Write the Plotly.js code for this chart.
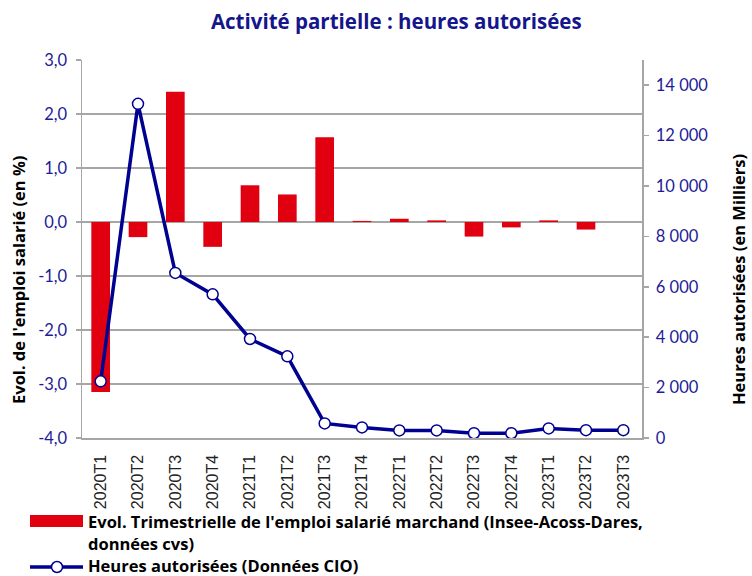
<!DOCTYPE html>
<html><head><meta charset="utf-8">
<script src="https://cdn.plot.ly/plotly-3.0.1.min.js"></script>
<style>body{margin:0;background:#fff}#chart{width:752px;height:576px}</style>
</head><body><div id="chart"></div>
<script>
const quarters = ["2020T1","2020T2","2020T3","2020T4","2021T1","2021T2","2021T3","2021T4","2022T1","2022T2","2022T3","2022T4","2023T1","2023T2","2023T3"];
const emploiEvol = [-3.15,-0.28,2.41,-0.46,0.68,0.51,1.57,0.02,0.06,0.03,-0.27,-0.10,0.03,-0.14,0.0];
const heuresAutorisees = [2250,13260,6550,5700,3930,3240,580,420,300,300,190,190,380,310,310];
const leftTickVals = [-4,-3,-2,-1,0,1,2,3];
const leftTickText = ["-4,0","-3,0","-2,0","-1,0","0,0","1,0","2,0","3,0"];
const rightTickVals = [0,2000,4000,6000,8000,10000,12000,14000];
const rightTickText = ["0","2 000","4 000","6 000","8 000","10 000","12 000","14 000"];
const barLegend = ["Evol. Trimestrielle de l'emploi salarié marchand (Insee-Acoss-Dares,", "données cvs)"];
const lineLegend = "Heures autorisées (Données CIO)";

const W = 752, H = 576, L = 82, R = 110, T = 60, B = 138;
const pw = W - L - R, ph = H - T - B;
const px = v => (v - L) / pw;          // pixel x -> paper x
const py = v => (H - B - v) / ph;      // pixel y -> paper y

const navy = "#000091";
const tickBlue = "#1c1c98";
const titleBlue = "#15158c";
const grey = "#a6a6a6";
const boldFont = "Open Sans, Noto Sans, sans-serif";
const tickFontFam = "Lato, Open Sans, sans-serif";

const traces = [
  {type:"bar", x:quarters, y:emploiEvol, name:barLegend.join(" "),
   marker:{color:"#e1000f"}, xaxis:"x", yaxis:"y", showlegend:false},
  {type:"scatter", mode:"lines+markers", x:quarters, y:heuresAutorisees, name:lineLegend,
   line:{color:navy, width:3.5}, marker:{symbol:"circle", size:11, color:"#fff", line:{color:navy, width:1.5}},
   xaxis:"x", yaxis:"y2", showlegend:false}
];

const legFont = {family:boldFont, size:16.5, color:"#000"};
const annotations = [
  {xref:"paper", yref:"paper", x:px(86), y:py(521), xanchor:"left", yanchor:"middle", text:"<b>"+barLegend[0]+"</b>", showarrow:false, font:legFont},
  {xref:"paper", yref:"paper", x:px(86), y:py(543.5), xanchor:"left", yanchor:"middle", text:"<b>"+barLegend[1]+"</b>", showarrow:false, font:legFont},
  {xref:"paper", yref:"paper", x:px(86), y:py(565.5), xanchor:"left", yanchor:"middle", text:"<b>"+lineLegend+"</b>", showarrow:false, font:legFont},
  {xref:"paper", yref:"paper", x:px(18), y:py(280), xanchor:"center", yanchor:"middle", textangle:-90, text:"<b>Evol. de l'emploi salarié (en %)</b>", showarrow:false, font:{family:boldFont, size:16.5, color:"#000"}},
  {xref:"paper", yref:"paper", x:px(738), y:py(280), xanchor:"center", yanchor:"middle", textangle:-90, text:"<b>Heures autorisées (en Milliers)</b>", showarrow:false, font:{family:boldFont, size:16.5, color:"#000"}}
];
const shapes = [
  {type:"rect", xref:"paper", yref:"paper", x0:px(30), x1:px(83), y0:py(515), y1:py(527), fillcolor:"#e1000f", line:{width:0}},
  {type:"line", xref:"paper", yref:"paper", x0:px(30), x1:px(83), y0:py(567), y1:py(567), line:{color:navy, width:3.5}},
  {type:"circle", xref:"paper", yref:"paper", x0:px(51.5), x1:px(62.5), y0:py(561.5), y1:py(572.5), fillcolor:"#fff", line:{color:navy, width:1.5}}
];

const layout = {
  width:W, height:H,
  margin:{l:L, r:R, t:T, b:B, autoexpand:false},
  paper_bgcolor:"#fff", plot_bgcolor:"#fff",
  separators:", ",
  font:{family:boldFont, color:"#000"},
  title:{text:"<b>Activité partielle : heures autorisées</b>", font:{size:20.5, color:titleBlue, family:boldFont}, x:0.527, xanchor:"center", y:1-22/H, yanchor:"middle"},
  bargap:0.5,
  showlegend:false,
  annotations, shapes,
  xaxis:{type:"category", range:[-0.5,14.5], showgrid:false, zeroline:false, showline:true, linecolor:grey, linewidth:1.5,
         ticks:"", tickangle:-90, ticklabelstandoff:9, tickfont:{size:16, color:"#222", family:"Liberation Sans, Arial, sans-serif"}, automargin:false},
  xaxis2:{overlaying:"x", anchor:"free", position:4/7, range:[-0.5,14.5], tick0:0, dtick:0.5, ticks:"outside", ticklen:4, tickwidth:1.5, tickcolor:grey,
          showticklabels:false, showgrid:false, zeroline:false, showline:true, linecolor:grey, linewidth:1.5, side:"bottom"},
  yaxis:{range:[-4,3], tickvals:leftTickVals, ticktext:leftTickText, showgrid:true, gridcolor:grey, gridwidth:1.5,
         zeroline:false, showline:true, linecolor:grey, linewidth:1.5, ticks:"outside", ticklen:5, tickcolor:grey, tickwidth:1.5,
         ticklabelstandoff:5, tickfont:{size:16.5, color:tickBlue, family:tickFontFam}, automargin:false},
  yaxis2:{overlaying:"y", side:"right", range:[0,15000], tickvals:rightTickVals, ticktext:rightTickText, showgrid:false, zeroline:false,
          showline:true, linecolor:grey, linewidth:1.5, ticks:"outside", ticklen:5, tickcolor:grey, tickwidth:1.5,
          ticklabelstandoff:4, tickfont:{size:16.5, color:tickBlue, family:tickFontFam}, automargin:false}
};

Plotly.newPlot("chart", traces, layout, {displayModeBar:false, staticPlot:true});
</script></body></html>
